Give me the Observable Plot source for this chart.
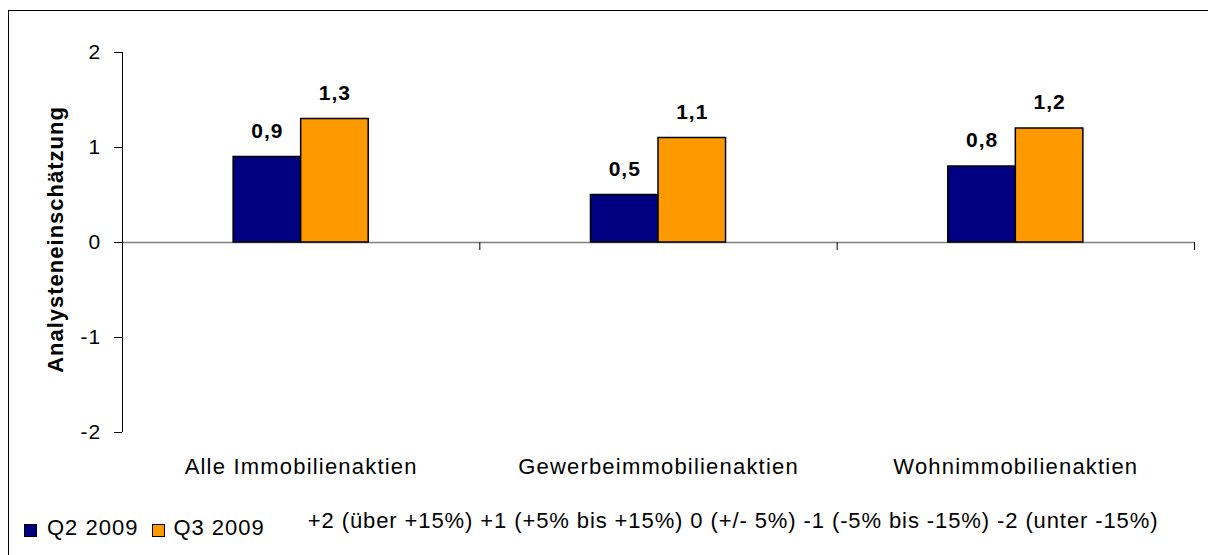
<!DOCTYPE html>
<html><head><meta charset="utf-8">
<script src="https://cdn.jsdelivr.net/npm/d3@7"></script>
<script src="https://cdn.jsdelivr.net/npm/@observablehq/plot@0.6"></script>
<style>
body{margin:0;background:#fff;font-family:"Liberation Sans",Arial,sans-serif;}
#wrap{position:relative;width:1208px;height:555px;overflow:hidden;background:#fff;}
#border{position:absolute;left:8px;top:10px;width:1400px;height:800px;border-left:1px solid #000;border-top:1px solid #000;}
#chart{position:absolute;left:0;top:0;}
#chart svg text{letter-spacing:1.2px;}
#chart svg g[font-weight="bold"] text{letter-spacing:1px;}
#legend{position:absolute;left:24px;top:517px;font-size:22px;line-height:22px;display:flex;align-items:center;white-space:nowrap;letter-spacing:1px;color:#000;}
.sw{display:inline-block;box-sizing:border-box;width:13px;height:13px;border:1px solid #000;position:relative;top:2px;}
.sw1{margin-right:10px;}
.sw2{margin-left:14px;margin-right:8px;}
.note{margin-left:43px;position:relative;top:-7px;letter-spacing:0.9px;}
</style></head><body>
<div id="wrap"><div id="border"></div><div id="chart"></div><div id="legend"></div></div>
<script>
const categories = ["Alle Immobilienaktien", "Gewerbeimmobilienaktien", "Wohnimmobilienaktien"];
const series = ["Q2 2009", "Q3 2009"];
const q2 = [0.9, 0.5, 0.8];
const q3 = [1.3, 1.1, 1.2];
const colors = ["#000080", "#FF9900"];
const yTicks = [-2, -1, 0, 1, 2];
const yTitle = "Analysteneinschätzung";
const scaleNote = "+2 (über +15%) +1 (+5% bis +15%) 0 (+/- 5%) -1 (-5% bis -15%) -2 (unter -15%)";

const fmt = v => String(v).replace(".", ",");
const barFrac = 0.189;
const rows = [];
categories.forEach((c, i) => {
  [q2, q3].forEach((vals, s) => {
    rows.push({category: c, series: series[s], value: vals[i],
      x1: i + 0.5 + (s - 1) * barFrac, x2: i + 0.5 + s * barFrac});
  });
});

const chart = Plot.plot({
  width: 1208, height: 490,
  marginLeft: 122, marginRight: 14, marginTop: 52, marginBottom: 58,
  style: {fontFamily: '"Liberation Sans", Arial, sans-serif', fontSize: "21px", color: "#000", background: "transparent"},
  x: {domain: [0, categories.length]},
  y: {domain: [-2, 2]},
  color: {domain: series, range: colors},
  marks: [
    Plot.ruleY([0], {stroke: "#808080", strokeWidth: 1.5}),
    Plot.ruleX(d3.range(categories.length + 1), {y1: 0, y2: 0, insetBottom: -8, stroke: "#000"}),
    Plot.ruleX([0], {y1: -2, y2: 2, stroke: "#000"}),
    Plot.rectY(rows, {x1: "x1", x2: "x2", y1: 0, y2: "value", fill: "series", stroke: "#000", strokeWidth: 1.5}),
    Plot.text(rows, {x: d => (d.x1 + d.x2) / 2, y: "value", text: d => fmt(d.value), dy: -26, fontWeight: "bold", fontSize: 21, fill: "#000"}),
    Plot.axisY({ticks: yTicks, tickSize: 8, tickPadding: 13, tickFormat: d => String(d), label: null, fontSize: 21}),
    Plot.axisX({ticks: categories.map((c, i) => i + 0.5), tickSize: 0, tickPadding: 26, tickFormat: d => categories[Math.floor(d)], label: null, fontSize: 22}),
    Plot.text([yTitle], {text: d => d, frameAnchor: "left", textAnchor: "middle", dx: -67, dy: -3, rotate: -90, fontWeight: "bold", fontSize: 22, fill: "#000"})
  ]
});
document.getElementById("chart").appendChild(chart);

const legend = document.getElementById("legend");
series.forEach((s, i) => {
  const sw = document.createElement("span");
  sw.className = "sw sw" + (i + 1);
  sw.style.background = colors[i];
  legend.appendChild(sw);
  const t = document.createElement("span");
  t.textContent = s;
  legend.appendChild(t);
});
const note = document.createElement("span");
note.className = "note";
note.textContent = scaleNote;
legend.appendChild(note);
</script>
</body></html>
